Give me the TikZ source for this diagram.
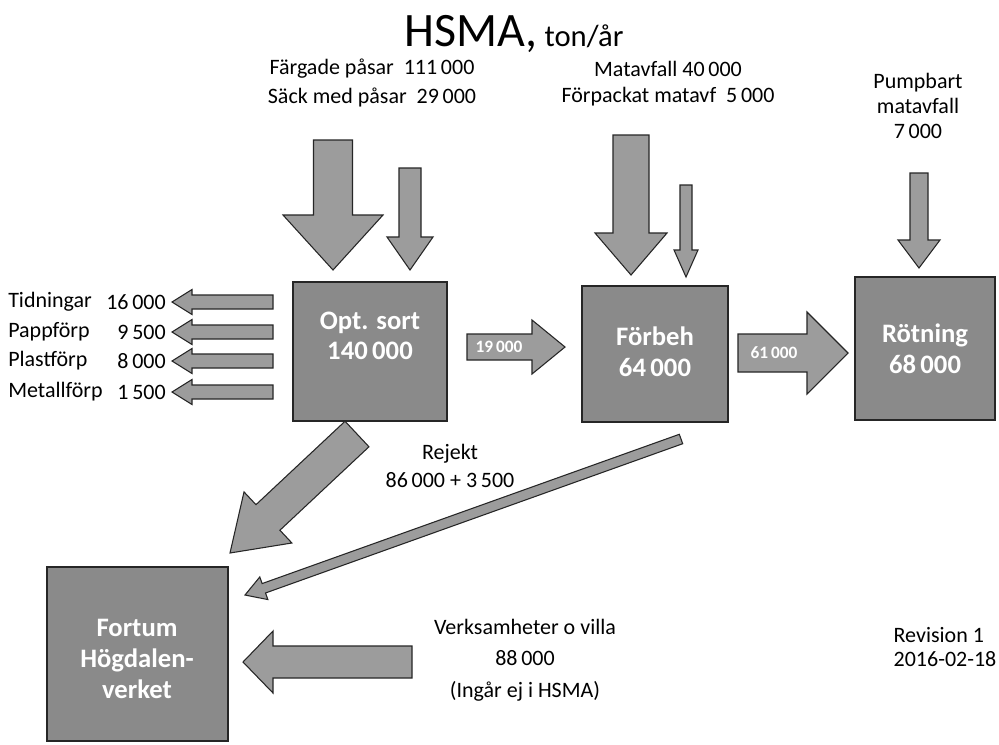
\documentclass[tikz,border=0pt]{standalone}
\usepackage{fontspec}
\setmainfont{Carlito}
\usetikzlibrary{calc}
\definecolor{boxgray}{HTML}{8A8A8A}
\definecolor{arrgray}{HTML}{9C9C9C}
\definecolor{edgegray}{HTML}{262626}
\tikzset{
  procbox/.style={draw=edgegray, line width=1pt, fill=boxgray, inner sep=0pt},
  blockarr/.style={draw=edgegray, line width=0.8pt, fill=arrgray, line join=miter},
  lbl/.style={font=\fontsize{16.5}{18.5}\selectfont, text=black, inner sep=0pt},
  sidelbl/.style={font=\fontsize{16.5}{18.5}\selectfont, text=black, inner sep=0pt},
  boxtxt/.style={font=\fontsize{20}{23}\selectfont\bfseries, text=white, align=center, inner sep=0pt},
  arrtxt/.style={font=\fontsize{13}{15}\selectfont\bfseries, text=white, inner sep=0pt},
}
\newcommand{\blockarrow}[5]{%
  \pgfmathsetmacro{\bkS}{#3*0.75}%
  \pgfmathsetmacro{\bkH}{#4*0.75}%
  \pgfmathsetmacro{\bkL}{#5*0.75}%
  \coordinate (bk-base) at ($(#2)!\bkL pt!(#1)$);
  \draw[blockarr] ($(#1)!\bkS pt!90:(#2)$) -- ($(bk-base)!\bkS pt!90:(#2)$)
    -- ($(bk-base)!\bkH pt!90:(#2)$) -- (#2) -- ($(bk-base)!\bkH pt!-90:(#2)$)
    -- ($(bk-base)!\bkS pt!-90:(#2)$) -- ($(#1)!\bkS pt!-90:(#2)$) -- cycle;}
\begin{document}
\begin{tikzpicture}[x=0.75pt,y=-0.75pt]
\useasboundingbox (0,0) rectangle (999,744);
\fill[white] (0,0) rectangle (999,744);

% title
\node[anchor=base, inner sep=0pt] (title) at (514,46) {\fontsize{36}{40}\selectfont HSMA,\fontsize{23}{27}\selectfont\ ton/år};

% boxes
\node[procbox, minimum width=115.5pt, minimum height=104.25pt] (opt) at (370,351.5) {};
\node[procbox, minimum width=109.5pt, minimum height=102pt] (forb) at (655,354) {};
\node[procbox, minimum width=105pt, minimum height=107.25pt] (rot) at (925,348.5) {};
\node[procbox, minimum width=135.75pt, minimum height=130.5pt] (fort) at (137.5,654) {};

\node[boxtxt] (optt) at (370,336) {Opt. sort\\140\,000};
\node[boxtxt] (forbt) at (655,352) {Förbeh\\64\,000};
\node[boxtxt] (rott) at (925,349) {Rötning\\68\,000};
\node[boxtxt] (fortt) at (137,659) {Fortum\\Högdalen-\\verket};

% top labels
\node[lbl] (farg) at (372,69) {Färgade påsar\ \ 111\,000};
\node[lbl] (sack) at (372,97) {Säck med påsar\ \ 29\,000};
\node[lbl] (mat) at (668,69) {Matavfall\ 40\,000};
\node[lbl] (forp) at (668,97) {Förpackat matavf\ \ 5\,000};
\node[lbl, align=center] (pump) at (918,106) {Pumpbart\\matavfall\\7\,000};

% coordinates for block arrows
\coordinate (a1s) at (333,140); \coordinate (a1e) at (333,270);
\coordinate (a2s) at (410,168); \coordinate (a2e) at (410,270);
\coordinate (m1s) at (631,135); \coordinate (m1e) at (631,275);
\coordinate (m2s) at (686,185); \coordinate (m2e) at (686,277);
\coordinate (ps) at (919,173); \coordinate (pe) at (919,268);
\blockarrow{a1s}{a1e}{19.5}{50}{55}
\blockarrow{a2s}{a2e}{11}{23}{33}
\blockarrow{m1s}{m1e}{18}{36}{42}
\blockarrow{m2s}{m2e}{6}{12}{27}
\blockarrow{ps}{pe}{9}{21}{28}

% left outputs
\foreach \yy/\nm/\val [count=\i] in {302/Tidningar/16\,000, 332/Pappförp/9\,500, 361/Plastförp/8\,000, 392/Metallförp/1\,500}{
  \coordinate (ls\i) at (273,\yy); \coordinate (le\i) at (172,\yy);
  \blockarrow{ls\i}{le\i}{7}{12.5}{20}
  \node[sidelbl, anchor=west] (ln\i) at (8,\yy) {\nm};
  \node[sidelbl, anchor=east] (lv\i) at (166,\yy) {\val};
}

% horizontal flows
\coordinate (f1s) at (467,347); \coordinate (f1e) at (565,347);
\blockarrow{f1s}{f1e}{13}{27}{33}
\node[arrtxt] (f1t) at (499,347) {19\,000};
\coordinate (f2s) at (738,353); \coordinate (f2e) at (848,353);
\blockarrow{f2s}{f2e}{19}{41}{41}
\node[arrtxt] (f2t) at (774,353) {61\,000};

% rejekt
\coordinate (r1s) at (357,434); \coordinate (r1e) at (230,553);
\blockarrow{r1s}{r1e}{17.5}{35}{52}
\coordinate (r2s) at (681,439); \coordinate (r2e) at (245,595);
\blockarrow{r2s}{r2e}{5}{12}{20}
\node[lbl, align=center] (rej) at (450,466) {Rejekt\\[3pt]86\,000 + 3\,500};

% verksamheter
\coordinate (vs) at (412,662); \coordinate (ve) at (243,662);
\blockarrow{vs}{ve}{16}{31}{30}
\node[lbl, align=center] (verk) at (525,660) {Verksamheter o villa\\[5pt]88\,000\\[5pt](Ingår ej i HSMA)};

\node[lbl, align=left] (rev) at (945,647) {Revision 1\\2016-02-18};
\end{tikzpicture}
\end{document}
